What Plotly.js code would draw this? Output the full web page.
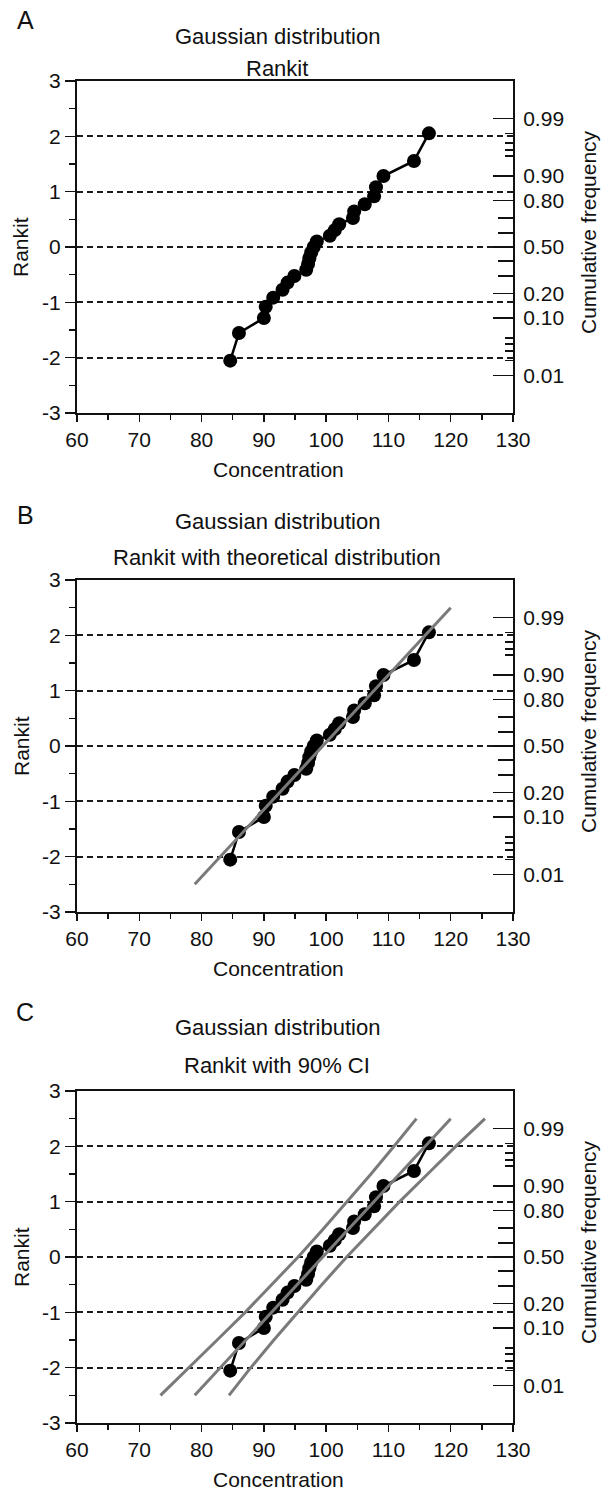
<!DOCTYPE html>
<html>
<head>
<meta charset="utf-8">
<script src="https://cdn.plot.ly/plotly-3.0.1.min.js"></script>
<style>html,body{margin:0;padding:0;background:#fff;}#chart{width:607px;height:1492px;}</style>
</head>
<body>
<div id="chart"></div>
<script>
// ---- data ----
const conc = [84.6, 86.0, 90.0, 90.3, 91.5, 93.0, 93.8, 94.9, 96.8, 97.1, 97.3, 97.6, 98.0, 98.5,
              100.6, 101.4, 102.1, 104.3, 104.5, 106.2, 107.7, 108.0, 109.2, 114.1, 116.5];
const rankit = [-2.054, -1.555, -1.282, -1.080, -0.915, -0.772, -0.643, -0.524, -0.412, -0.305,
                -0.202, -0.100, 0.000, 0.100, 0.202, 0.305, 0.412, 0.524, 0.643, 0.772,
                0.915, 1.080, 1.282, 1.555, 2.054];
// theoretical distribution (panel B)
const theoX = [78.9, 120.0];
const theoY = [-2.5, 2.5];
// 90% CI curves (panel C)
const ciY    = [-2.5, -2, -1.5, -1, -0.5, 0, 0.5, 1, 1.5, 2, 2.5];
const ciLow  = [73.4, 78.0, 82.5, 87.0, 91.3, 95.5, 99.5, 103.4, 107.2, 110.9, 114.5];
const ciMid  = [78.9, 83.0, 87.1, 91.2, 95.3, 99.4, 103.5, 107.6, 111.7, 115.8, 120.0];
const ciHigh = [84.4, 87.9, 91.6, 95.4, 99.3, 103.3, 107.5, 111.8, 116.3, 120.8, 125.5];
// cumulative-frequency (probit) axis
const cfLabels = ["0.01", "0.10", "0.20", "0.50", "0.80", "0.90", "0.99"];
const cfZ      = [-2.326, -1.2816, -0.8416, 0, 0.8416, 1.2816, 2.326];
const cfMidZ   = [-0.5244, -0.2533, 0.2533, 0.5244];            // 0.3 0.4 0.6 0.7
const cfMinZ   = [-2.054, -1.881, -1.751, -1.645, 1.645, 1.751, 1.881, 2.054]; // 0.02-0.05, 0.95-0.98
const xTicks = [60, 70, 80, 90, 100, 110, 120, 130];
const yTicks = [-3, -2, -1, 0, 1, 2, 3];
const yTickText = ["-3", "-2", "-1", "0", "1", "2", "3"];
const panels = [
  {letter: "A", t1: "Gaussian distribution", t2: "Rankit"},
  {letter: "B", t1: "Gaussian distribution", t2: "Rankit with theoretical distribution"},
  {letter: "C", t1: "Gaussian distribution", t2: "Rankit with 90% CI"}
];

// ---- geometry ----
const W = 607, H = 1492;
const M = {l: 77, r: 94, t: 81, b: 69};
const plotH = H - M.t - M.b, plotW = W - M.l - M.r;
const py = p => (H - M.b - p) / plotH;   // pixel y -> paper
const px = p => (p - M.l) / plotW;       // pixel x -> paper
const tops = [81, 580, 1091];
const PH = 332;
const FONT = "Liberation Sans, Arial, Helvetica, sans-serif";
const INK = "#111";
const GRAY = "#7a7a7a";
const TICKF = {size: 21, color: INK, family: FONT};

const data = [];
const layout = {
  width: W, height: H, margin: M, showlegend: false,
  paper_bgcolor: "#fff", plot_bgcolor: "#fff",
  font: {family: FONT, size: 21, color: INK},
  annotations: []
};

panels.forEach((p, i) => {
  const n = i + 1;
  const xs = n === 1 ? "" : String(n);
  const ya = String(n), yr = String(n + 3), ym = String(n + 6);
  const xName = "x" + xs, yName = "y" + (n === 1 ? "" : ya);
  const yRight = "y" + yr, yMinor = "y" + ym;
  const top = tops[i], bot = top + PH;
  const dom = [py(bot), py(top)];

  layout["xaxis" + xs] = {
    anchor: yName, domain: [0, 1], range: [60, 130],
    tickmode: "array", tickvals: xTicks, ticks: "outside", ticklen: 7, tickwidth: 1.5, tickcolor: INK,
    minor: {tickmode: "array", tickvals: [65, 75, 85, 95, 105, 115, 125], ticks: "outside", ticklen: 5, tickwidth: 1.5, tickcolor: INK},
    showline: true, linewidth: 2, linecolor: INK, mirror: true,
    showgrid: false, zeroline: false, tickfont: TICKF
  };
  layout["yaxis" + (n === 1 ? "" : ya)] = {
    anchor: xName, domain: dom, range: [-3, 3],
    tickmode: "array", tickvals: yTicks, ticktext: yTickText,
    ticks: "outside", ticklen: 10, tickwidth: 1.5, tickcolor: INK,
    minor: {tickmode: "array", tickvals: [-2.5, -1.5, -0.5, 0.5, 1.5, 2.5], ticks: "outside", ticklen: 6, tickwidth: 1.5, tickcolor: INK},
    showline: true, linewidth: 2, linecolor: INK, mirror: false,
    showgrid: true, gridcolor: "#1a1a1a", gridwidth: 1.8, griddash: "6px,4px",
    zeroline: false, tickfont: TICKF
  };
  layout["yaxis" + yr] = {
    overlaying: yName, anchor: xName, side: "right", range: [-3, 3],
    tickmode: "array", tickvals: cfZ, ticktext: cfLabels,
    ticks: "inside", ticklen: 20, tickwidth: 1.5, tickcolor: INK,
    minor: {tickmode: "array", tickvals: cfMidZ, ticks: "inside", ticklen: 15, tickwidth: 1.5, tickcolor: INK},
    showline: true, linewidth: 2, linecolor: INK, showgrid: false, zeroline: false,
    ticklabelstandoff: 4, tickfont: TICKF
  };
  layout["yaxis" + ym] = {
    overlaying: yName, anchor: xName, side: "right", range: [-3, 3],
    tickmode: "array", tickvals: cfMinZ, showticklabels: false,
    ticks: "inside", ticklen: 8, tickwidth: 1.5, tickcolor: INK,
    showline: false, showgrid: false, zeroline: false
  };

  // invisible traces so the overlay axes exist
  [yRight, yMinor].forEach(yy => data.push({
    x: conc, y: rankit, xaxis: xName, yaxis: yy, type: "scatter", mode: "markers",
    marker: {opacity: 0}, hoverinfo: "skip"
  }));

  // rankit data
  data.push({
    x: conc, y: rankit, xaxis: xName, yaxis: yName, type: "scatter", mode: "lines+markers",
    line: {color: "#000", width: 2.5}, marker: {color: "#000", size: 14}
  });

  if (n === 2) {
    data.push({x: theoX, y: theoY, xaxis: xName, yaxis: yName, type: "scatter", mode: "lines",
      line: {color: GRAY, width: 3}});
  }
  if (n === 3) {
    [ciLow, ciMid, ciHigh].forEach(cx => data.push({
      x: cx, y: ciY, xaxis: xName, yaxis: yName, type: "scatter", mode: "lines",
      line: {color: GRAY, width: 3}
    }));
  }

  const titleGap = [[46, 14], [60, 24], [65, 27]][i];
  const A = layout.annotations;
  const base = {xref: "paper", yref: "paper", showarrow: false, xanchor: "center", yanchor: "middle"};
  A.push(Object.assign({}, base, {x: px(25), y: py(top - [61, 65, 79][i]), text: p.letter, font: {size: 25, color: INK}}));
  A.push(Object.assign({}, base, {x: px(277), y: py(top - titleGap[0] + 1), text: p.t1, font: {size: 22, color: INK}}));
  A.push(Object.assign({}, base, {x: px(277), y: py(top - titleGap[1] + 1), text: p.t2, font: {size: 22, color: INK}}));
  A.push(Object.assign({}, base, {x: px(278), y: py(bot + 56), text: "Concentration", font: {size: 21, color: INK}}));
  A.push(Object.assign({}, base, {x: px(21), y: py(top + 166), text: "Rankit", textangle: -90, font: {size: 21, color: INK}}));
  A.push(Object.assign({}, base, {x: px(588), y: py(top + 151), text: "Cumulative frequency", textangle: -90, font: {size: 21, color: INK}}));
});

Plotly.newPlot("chart", data, layout, {displayModeBar: false, staticPlot: true});
</script>
</body>
</html>
